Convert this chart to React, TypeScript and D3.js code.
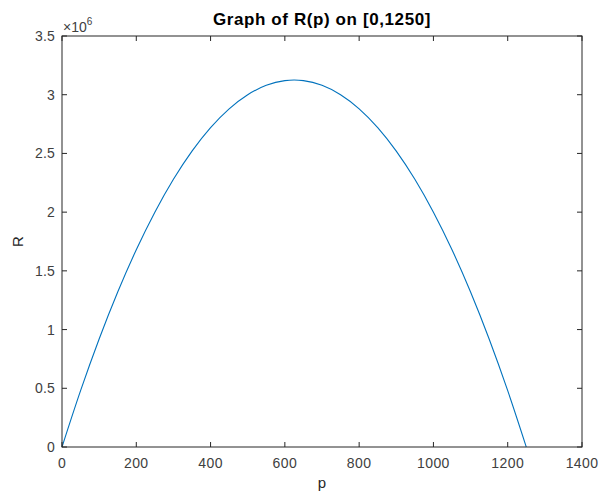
import React from "react";
import * as d3 from "d3";

const pValues = [0, 50, 100, 150, 200, 250, 300, 350, 400, 450, 500, 550, 600, 625, 650, 700, 750, 800, 850, 900, 950, 1000, 1050, 1100, 1150, 1200, 1250];
const rValues = [0, 480000, 920000, 1320000, 1680000, 2000000, 2280000, 2520000, 2720000, 2880000, 3000000, 3080000, 3120000, 3125000, 3120000, 3080000, 3000000, 2880000, 2720000, 2520000, 2280000, 2000000, 1680000, 1320000, 920000, 480000, 0];
const xTicks = [0, 200, 400, 600, 800, 1000, 1200, 1400];
const yTicks = [0, 0.5e6, 1e6, 1.5e6, 2e6, 2.5e6, 3e6, 3.5e6];
const yTickLabels = ["0", "0.5", "1", "1.5", "2", "2.5", "3", "3.5"];
const title = "Graph of R(p) on [0,1250]";

export default function App() {
  const W = 600, H = 494;
  const L = 62, R = 582, T = 36, B = 447;
  const x = d3.scaleLinear().domain([0, 1400]).range([L, R]);
  const y = d3.scaleLinear().domain([0, 3.5e6]).range([B, T]);
  const data = pValues.map((p, i) => [p, rValues[i]] as [number, number]);
  const line = d3.line<[number, number]>().x(d => x(d[0])).y(d => y(d[1])).curve(d3.curveMonotoneX);
  const axisColor = "#262626";
  const font = "Liberation Sans, Arial, sans-serif";
  const tick = 5;
  return (
    <svg width={W} height={H} style={{ position: "absolute", left: 0, top: 0, background: "#fff" }} fontFamily={font}>
      <rect x={0} y={0} width={W} height={H} fill="#fff" />
      <path d={line(data) || ""} fill="none" stroke="#0072BD" strokeWidth={1.1} />
      <rect x={L} y={T} width={R - L} height={B - T} fill="none" stroke={axisColor} strokeWidth={1} />
      {xTicks.map(t => (
        <g key={"x" + t}>
          <line x1={x(t)} x2={x(t)} y1={B} y2={B - tick} stroke={axisColor} />
          <line x1={x(t)} x2={x(t)} y1={T} y2={T + tick} stroke={axisColor} />
          <text x={x(t)} y={468} textAnchor="middle" fontSize={14} letterSpacing={0.4} fill="#404040">{t}</text>
        </g>
      ))}
      {yTicks.map((t, i) => (
        <g key={"y" + t}>
          <line x1={L} x2={L + tick} y1={y(t)} y2={y(t)} stroke={axisColor} />
          <line x1={R} x2={R - tick} y1={y(t)} y2={y(t)} stroke={axisColor} />
          <text x={55} y={y(t) + 5} textAnchor="end" fontSize={14} letterSpacing={0.2} fill="#404040">{yTickLabels[i]}</text>
        </g>
      ))}
      <text x={63} y={32} fontSize={14} fill="#404040">×10<tspan dy={-7} fontSize={10}>6</tspan></text>
      <text x={(L + R) / 2} y={25} textAnchor="middle" fontSize={17} letterSpacing={0.6} fontWeight="bold" fill="#000">{title}</text>
      <text x={(L + R) / 2} y={488} textAnchor="middle" fontSize={15} fill="#262626">p</text>
      <text transform={`translate(23,${(T + B) / 2}) rotate(-90)`} textAnchor="middle" fontSize={15} fill="#262626">R</text>
    </svg>
  );
}
